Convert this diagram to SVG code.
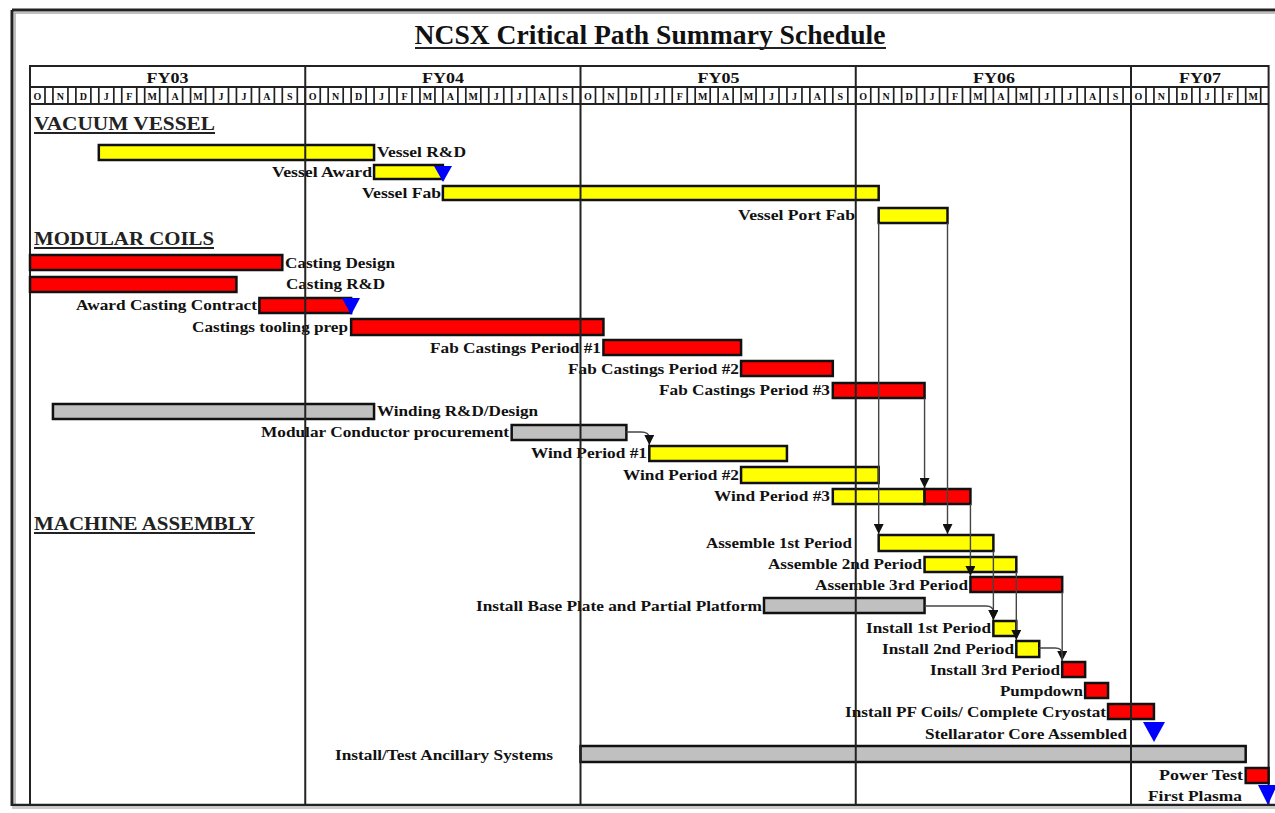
<svg xmlns="http://www.w3.org/2000/svg" xmlns:xlink="http://www.w3.org/1999/xlink" width="1275" height="813" viewBox="0 0 1275 813">
<style>
.lbl{font-family:"Liberation Serif","Times New Roman",serif;font-weight:bold;font-size:14px;fill:#111}
.e{text-anchor:end}
.ttl{font-family:"Liberation Serif",serif;font-weight:bold;font-size:27px;fill:#111;text-anchor:middle}
.sec{font-family:"Liberation Serif",serif;font-weight:bold;font-size:18px;fill:#222}
.fy{font-family:"Liberation Serif",serif;font-weight:bold;font-size:14px;fill:#111;text-anchor:middle}
.mo{font-family:"Liberation Serif",serif;font-weight:bold;font-size:10px;fill:#111;text-anchor:middle}
.bar{stroke:#111;stroke-width:2.5}
.yl{fill:#ffff00}.rd{fill:#ff0000}.gr{fill:#c0c0c0}
.ms{fill:#0000ff}
.grid{stroke:#222;stroke-width:2}
.conn{stroke:#444;stroke-width:1.4;fill:none}
.ul{stroke:#222;stroke-width:2}
</style>
<defs>
<marker id="ah" viewBox="0 0 10 10" refX="10" refY="5" markerWidth="10" markerHeight="10" markerUnits="userSpaceOnUse" orient="auto"><path d="M0,0 L10,5 L0,10 z" fill="#111"/></marker>
<rect id="mb" x="0" y="87" width="15" height="17" fill="none" stroke="#222" stroke-width="1.7"/>
</defs>
<rect width="1275" height="813" fill="#fff"/>
<g id="frame">
<line x1="12" y1="10" x2="1275" y2="10" stroke="#222" stroke-width="3"/>
<line x1="14" y1="13" x2="1275" y2="13" stroke="#aaa" stroke-width="1.5"/>
<line x1="12" y1="10" x2="12" y2="806" stroke="#222" stroke-width="3"/>
<line x1="15" y1="13" x2="15" y2="806" stroke="#aaa" stroke-width="1.5"/>
<line x1="12" y1="805" x2="1275" y2="805" stroke="#222" stroke-width="2.5"/>
<line x1="12" y1="808" x2="1275" y2="808" stroke="#bbb" stroke-width="1.5"/>
<rect x="30" y="66" width="1238.6" height="739" fill="none" stroke="#222" stroke-width="2"/>
<line x1="30" y1="87" x2="1268.6" y2="87" stroke="#222" stroke-width="2"/>
<line x1="30" y1="104" x2="1268.6" y2="104" stroke="#222" stroke-width="2"/>
</g>
<g id="title">
<text class="ttl" x="650" y="44" textLength="471" lengthAdjust="spacingAndGlyphs">NCSX Critical Path Summary Schedule</text>
<line class="ul" x1="415" y1="48" x2="886" y2="48" stroke-width="2.5"/>
</g>
<g id="fiscal-years">
<text class="fy" x="167.6" y="83" textLength="42" lengthAdjust="spacingAndGlyphs">FY03</text>
<text class="fy" x="443" y="83" textLength="42" lengthAdjust="spacingAndGlyphs">FY04</text>
<text class="fy" x="718.4" y="83" textLength="42" lengthAdjust="spacingAndGlyphs">FY05</text>
<text class="fy" x="993.9" y="83" textLength="42" lengthAdjust="spacingAndGlyphs">FY06</text>
<text class="fy" x="1200" y="83" textLength="42" lengthAdjust="spacingAndGlyphs">FY07</text>
</g>
<g id="months">
<use xlink:href="#mb" x="30"/><use xlink:href="#mb" x="52.94"/><use xlink:href="#mb" x="75.88"/><use xlink:href="#mb" x="98.81"/><use xlink:href="#mb" x="121.75"/><use xlink:href="#mb" x="144.69"/><use xlink:href="#mb" x="167.63"/><use xlink:href="#mb" x="190.56"/><use xlink:href="#mb" x="213.5"/><use xlink:href="#mb" x="236.44"/><use xlink:href="#mb" x="259.38"/><use xlink:href="#mb" x="282.31"/>
<use xlink:href="#mb" x="305.25"/><use xlink:href="#mb" x="328.19"/><use xlink:href="#mb" x="351.13"/><use xlink:href="#mb" x="374.06"/><use xlink:href="#mb" x="397"/><use xlink:href="#mb" x="419.94"/><use xlink:href="#mb" x="442.88"/><use xlink:href="#mb" x="465.81"/><use xlink:href="#mb" x="488.75"/><use xlink:href="#mb" x="511.69"/><use xlink:href="#mb" x="534.63"/><use xlink:href="#mb" x="557.56"/>
<use xlink:href="#mb" x="580.5"/><use xlink:href="#mb" x="603.44"/><use xlink:href="#mb" x="626.38"/><use xlink:href="#mb" x="649.31"/><use xlink:href="#mb" x="672.25"/><use xlink:href="#mb" x="695.19"/><use xlink:href="#mb" x="718.13"/><use xlink:href="#mb" x="741.06"/><use xlink:href="#mb" x="764"/><use xlink:href="#mb" x="786.94"/><use xlink:href="#mb" x="809.88"/><use xlink:href="#mb" x="832.81"/>
<use xlink:href="#mb" x="855.75"/><use xlink:href="#mb" x="878.69"/><use xlink:href="#mb" x="901.63"/><use xlink:href="#mb" x="924.56"/><use xlink:href="#mb" x="947.5"/><use xlink:href="#mb" x="970.44"/><use xlink:href="#mb" x="993.38"/><use xlink:href="#mb" x="1016.31"/><use xlink:href="#mb" x="1039.25"/><use xlink:href="#mb" x="1062.19"/><use xlink:href="#mb" x="1085.13"/><use xlink:href="#mb" x="1108.06"/>
<use xlink:href="#mb" x="1131"/><use xlink:href="#mb" x="1153.94"/><use xlink:href="#mb" x="1176.88"/><use xlink:href="#mb" x="1199.81"/><use xlink:href="#mb" x="1222.75"/><use xlink:href="#mb" x="1245.69"/>
<text class="mo" y="99.5"><tspan x="37.5">O</tspan><tspan x="60.44">N</tspan><tspan x="83.38">D</tspan><tspan x="106.31">J</tspan><tspan x="129.25">F</tspan><tspan x="152.19">M</tspan><tspan x="175.13">A</tspan><tspan x="198.06">M</tspan><tspan x="221">J</tspan><tspan x="243.94">J</tspan><tspan x="266.88">A</tspan><tspan x="289.81">S</tspan></text>
<text class="mo" y="99.5"><tspan x="312.75">O</tspan><tspan x="335.69">N</tspan><tspan x="358.63">D</tspan><tspan x="381.56">J</tspan><tspan x="404.5">F</tspan><tspan x="427.44">M</tspan><tspan x="450.38">A</tspan><tspan x="473.31">M</tspan><tspan x="496.25">J</tspan><tspan x="519.19">J</tspan><tspan x="542.13">A</tspan><tspan x="565.06">S</tspan></text>
<text class="mo" y="99.5"><tspan x="588">O</tspan><tspan x="610.94">N</tspan><tspan x="633.88">D</tspan><tspan x="656.81">J</tspan><tspan x="679.75">F</tspan><tspan x="702.69">M</tspan><tspan x="725.63">A</tspan><tspan x="748.56">M</tspan><tspan x="771.5">J</tspan><tspan x="794.44">J</tspan><tspan x="817.38">A</tspan><tspan x="840.31">S</tspan></text>
<text class="mo" y="99.5"><tspan x="863.25">O</tspan><tspan x="886.19">N</tspan><tspan x="909.13">D</tspan><tspan x="932.06">J</tspan><tspan x="955">F</tspan><tspan x="977.94">M</tspan><tspan x="1000.88">A</tspan><tspan x="1023.81">M</tspan><tspan x="1046.75">J</tspan><tspan x="1069.69">J</tspan><tspan x="1092.63">A</tspan><tspan x="1115.56">S</tspan></text>
<text class="mo" y="99.5"><tspan x="1138.5">O</tspan><tspan x="1161.44">N</tspan><tspan x="1184.38">D</tspan><tspan x="1207.31">J</tspan><tspan x="1230.25">F</tspan><tspan x="1253.19">M</tspan></text>
</g>
<g id="sections">
<text class="sec" x="34" y="130" textLength="181" lengthAdjust="spacingAndGlyphs">VACUUM VESSEL</text>
<line class="ul" x1="34" y1="133" x2="215" y2="133"/>
<text class="sec" x="34" y="245" textLength="180" lengthAdjust="spacingAndGlyphs">MODULAR COILS</text>
<line class="ul" x1="34" y1="248" x2="214" y2="248"/>
<text class="sec" x="34" y="530" textLength="221" lengthAdjust="spacingAndGlyphs">MACHINE ASSEMBLY</text>
<line class="ul" x1="34" y1="533" x2="255" y2="533"/>
</g>
<g id="vessel-rd"><rect class="bar yl" x="98.81" y="145" width="275.25" height="15"/><text class="lbl" x="377" y="157" textLength="89" lengthAdjust="spacingAndGlyphs">Vessel R&amp;D</text></g>
<g id="vessel-award"><rect class="bar yl" x="374.06" y="165" width="68.82" height="14"/><polygon class="ms" points="434,166 452,166 443,182"/><text class="lbl e" x="372" y="177" textLength="100" lengthAdjust="spacingAndGlyphs">Vessel Award</text></g>
<g id="vessel-fab"><rect class="bar yl" x="442.88" y="186" width="435.81" height="14"/><text class="lbl e" x="441" y="198" textLength="79" lengthAdjust="spacingAndGlyphs">Vessel Fab</text></g>
<g id="vessel-port-fab"><rect class="bar yl" x="878.69" y="208" width="68.81" height="15" stroke-width="3.5"/><text class="lbl e" x="855" y="220" textLength="117" lengthAdjust="spacingAndGlyphs">Vessel Port Fab</text></g>
<g id="casting-design"><rect class="bar rd" x="30" y="255" width="252.31" height="15"/><text class="lbl" x="285" y="268" textLength="110" lengthAdjust="spacingAndGlyphs">Casting Design</text></g>
<g id="casting-rd"><rect class="bar rd" x="30" y="277" width="206.44" height="15"/><text class="lbl" x="286" y="289" textLength="99" lengthAdjust="spacingAndGlyphs">Casting R&amp;D</text></g>
<g id="award-casting"><rect class="bar rd" x="259.38" y="298" width="91.75" height="15"/><polygon class="ms" points="342,298 360,298 351,315"/><text class="lbl e" x="257" y="310" textLength="181" lengthAdjust="spacingAndGlyphs">Award Casting Contract</text></g>
<g id="castings-tooling"><rect class="bar rd" x="351.13" y="319" width="252.31" height="16"/><text class="lbl e" x="348" y="332" textLength="156" lengthAdjust="spacingAndGlyphs">Castings tooling prep</text></g>
<g id="fab-castings-1"><rect class="bar rd" x="603.44" y="340" width="137.62" height="15"/><text class="lbl e" x="601" y="353" textLength="171" lengthAdjust="spacingAndGlyphs">Fab Castings Period #1</text></g>
<g id="fab-castings-2"><rect class="bar rd" x="741.06" y="361" width="91.75" height="15"/><text class="lbl e" x="739" y="374" textLength="171" lengthAdjust="spacingAndGlyphs">Fab Castings Period #2</text></g>
<g id="fab-castings-3"><rect class="bar rd" x="832.81" y="383" width="91.75" height="15"/><text class="lbl e" x="830" y="395" textLength="171" lengthAdjust="spacingAndGlyphs">Fab Castings Period #3</text></g>
<g id="winding-rd"><rect class="bar gr" x="52.94" y="404" width="321.12" height="15"/><text class="lbl" x="377" y="416" textLength="161" lengthAdjust="spacingAndGlyphs">Winding R&amp;D/Design</text></g>
<g id="conductor-procurement"><rect class="bar gr" x="511.69" y="425" width="114.69" height="15"/><text class="lbl e" x="509" y="437" textLength="248" lengthAdjust="spacingAndGlyphs">Modular Conductor procurement</text></g>
<g id="wind-1"><rect class="bar yl" x="649.31" y="446" width="137.63" height="15"/><text class="lbl e" x="647" y="458" textLength="116" lengthAdjust="spacingAndGlyphs">Wind Period #1</text></g>
<g id="wind-2"><rect class="bar yl" x="741.06" y="467" width="137.63" height="16"/><text class="lbl e" x="739" y="480" textLength="116" lengthAdjust="spacingAndGlyphs">Wind Period #2</text></g>
<g id="wind-3"><rect class="bar yl" x="832.81" y="489" width="91.75" height="15"/><rect class="bar rd" x="924.56" y="489" width="45.88" height="15"/><text class="lbl e" x="830" y="501" textLength="116" lengthAdjust="spacingAndGlyphs">Wind Period #3</text></g>
<g id="assemble-1"><rect class="bar yl" x="878.69" y="535" width="114.69" height="16"/><text class="lbl e" x="852" y="548" textLength="146" lengthAdjust="spacingAndGlyphs">Assemble 1st Period</text></g>
<g id="assemble-2"><rect class="bar yl" x="924.56" y="557" width="91.75" height="15"/><text class="lbl e" x="922" y="569" textLength="154" lengthAdjust="spacingAndGlyphs">Assemble 2nd Period</text></g>
<g id="assemble-3"><rect class="bar rd" x="970.44" y="577" width="91.75" height="15"/><text class="lbl e" x="968" y="590" textLength="153" lengthAdjust="spacingAndGlyphs">Assemble 3rd Period</text></g>
<g id="base-plate"><rect class="bar gr" x="764" y="598" width="160.56" height="15"/><text class="lbl e" x="762" y="611" textLength="286" lengthAdjust="spacingAndGlyphs">Install Base Plate and Partial Platform</text></g>
<g id="install-1"><rect class="bar yl" x="993.38" y="621" width="22.93" height="15"/><text class="lbl e" x="991" y="633" textLength="125" lengthAdjust="spacingAndGlyphs">Install 1st Period</text></g>
<g id="install-2"><rect class="bar yl" x="1016.31" y="641" width="22.94" height="16"/><text class="lbl e" x="1014" y="654" textLength="132" lengthAdjust="spacingAndGlyphs">Install 2nd Period</text></g>
<g id="install-3"><rect class="bar rd" x="1062.19" y="662" width="22.94" height="15"/><text class="lbl e" x="1060" y="675" textLength="130" lengthAdjust="spacingAndGlyphs">Install 3rd Period</text></g>
<g id="pumpdown"><rect class="bar rd" x="1085.13" y="683" width="22.93" height="15"/><text class="lbl e" x="1083" y="696" textLength="83" lengthAdjust="spacingAndGlyphs">Pumpdown</text></g>
<g id="pf-coils"><rect class="bar rd" x="1108.06" y="704" width="45.88" height="15"/><text class="lbl e" x="1106" y="717" textLength="261" lengthAdjust="spacingAndGlyphs">Install PF Coils/ Complete Cryostat</text></g>
<g id="stellarator-core"><polygon class="ms" points="1143,722 1165,722 1154,742"/><text class="lbl e" x="1127" y="739" textLength="202" lengthAdjust="spacingAndGlyphs">Stellarator Core Assembled</text></g>
<g id="ancillary"><rect class="bar gr" x="580.5" y="746" width="665.19" height="16"/><text class="lbl" x="335" y="760" textLength="218" lengthAdjust="spacingAndGlyphs">Install/Test Ancillary Systems</text></g>
<g id="power-test"><rect class="bar rd" x="1245.69" y="768" width="22.94" height="15"/><text class="lbl e" x="1243" y="780" textLength="84" lengthAdjust="spacingAndGlyphs">Power Test</text></g>
<g id="first-plasma"><polygon class="ms" points="1258,785 1277,785 1268,805"/><text class="lbl e" x="1242" y="801" textLength="94" lengthAdjust="spacingAndGlyphs">First Plasma</text></g>
<g id="grid">
<line class="grid" x1="305.25" y1="66" x2="305.25" y2="805"/>
<line class="grid" x1="580.5" y1="66" x2="580.5" y2="805"/>
<line class="grid" x1="855.75" y1="66" x2="855.75" y2="805"/>
<line class="grid" x1="1131" y1="66" x2="1131" y2="805"/>
</g>
<g id="connectors">
<path class="conn" d="M878.69,223 V534" marker-end="url(#ah)"/>
<path class="conn" d="M947.5,223 V534" marker-end="url(#ah)"/>
<path class="conn" d="M924.56,398 V488" marker-end="url(#ah)"/>
<path class="conn" d="M970.44,504 V576" marker-end="url(#ah)"/>
<path class="conn" d="M626.38,432 H641 Q649.31,432 649.31,438 V445" marker-end="url(#ah)"/>
<path class="conn" d="M924.56,606 H986 Q993.38,606 993.38,612 V620" marker-end="url(#ah)"/>
<path class="conn" d="M993.38,551 V620" marker-end="url(#ah)"/>
<path class="conn" d="M1016.31,572 V640" marker-end="url(#ah)"/>
<path class="conn" d="M1062.19,592 V661" marker-end="url(#ah)"/>
<path class="conn" d="M1039.25,648 H1055 Q1062.19,648 1062.19,654 V661"/>
</g>
</svg>
